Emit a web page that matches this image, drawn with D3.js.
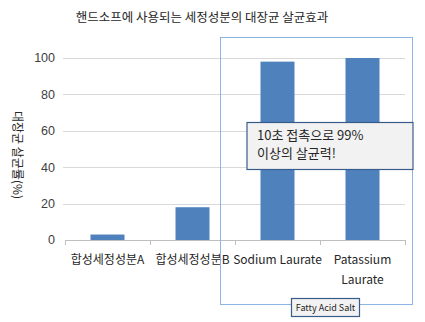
<!DOCTYPE html>
<html>
<head>
<meta charset="utf-8">
<script src="https://cdn.jsdelivr.net/npm/d3@7"></script>
<style>
  body { margin: 0; background: #fff; }
  text { fill: #262626; }
</style>
</head>
<body>
<div id="chart"></div>
<script>
let categories = ["합성세정성분A", "합성세정성분B", "Sodium Laurate", "Patassium Laurate"];
let labelLines = [["합성세정성분A"], ["합성세정성분B"], ["Sodium Laurate"], ["Patassium", "Laurate"]];
let values = [3, 18, 98, 100];
let yTicks = [0, 20, 40, 60, 80, 100];

let chartTitle = "핸드소프에 사용되는 세정성분의 대장균 살균효과";
let yTitle = "대장균 살균률(%)";
let noteLines = ["10초 접촉으로 99%", "이상의 살균력!"];
let groupLabel = "Fatty Acid Salt";

let svgWidth = 425;
let svgHeight = 322;
let margin = { top: 58, right: 20, bottom: 82, left: 65 };
let chartWidth = 340;
let chartHeight = 182;

let korFont = "'Noto Sans CJK KR', 'Noto Sans', sans-serif";
let numFont = "'Liberation Sans', Arial, sans-serif";

let svg = d3.select("#chart")
  .append("svg")
  .attr("width", svgWidth)
  .attr("height", svgHeight);

let chartGroup = svg.append("g")
  .attr("transform", `translate(${margin.left}, ${margin.top})`);

let x = d3.scaleBand()
  .domain(categories)
  .range([0, chartWidth])
  .paddingInner(0.6)
  .paddingOuter(0.3);

let y = d3.scaleLinear()
  .domain([0, 100])
  .range([chartHeight, 0]);

// gridlines
chartGroup.append("g")
  .selectAll("line")
  .data(yTicks.filter(d => d > 0))
  .enter()
  .append("line")
  .attr("x1", -2)
  .attr("x2", chartWidth)
  .attr("y1", d => Math.round(y(d)) + 0.5)
  .attr("y2", d => Math.round(y(d)) + 0.5)
  .attr("stroke", "#d9d9d9");

// y tick labels
chartGroup.append("g")
  .selectAll("text")
  .data(yTicks)
  .enter()
  .append("text")
  .attr("x", -10)
  .attr("y", d => y(d))
  .attr("dy", "0.35em")
  .attr("text-anchor", "end")
  .style("font-family", numFont)
  .style("font-size", "12.5px")
  .style("fill", "#404040")
  .text(d => d);

// bars
chartGroup.selectAll("rect.bar")
  .data(values)
  .enter()
  .append("rect")
  .attr("class", "bar")
  .attr("x", (d, i) => x(categories[i]))
  .attr("y", d => y(d))
  .attr("width", x.bandwidth())
  .attr("height", d => chartHeight - y(d))
  .attr("fill", "#4f81bd");

// x axis line and ticks at band edges
let bandStep = chartWidth / categories.length;
chartGroup.append("line")
  .attr("x1", 0)
  .attr("x2", chartWidth)
  .attr("y1", chartHeight + 0.5)
  .attr("y2", chartHeight + 0.5)
  .attr("stroke", "#bfbfbf");

chartGroup.append("g")
  .selectAll("line")
  .data(d3.range(categories.length + 1))
  .enter()
  .append("line")
  .attr("x1", d => Math.round(d * bandStep) + 0.5)
  .attr("x2", d => Math.round(d * bandStep) + 0.5)
  .attr("y1", chartHeight)
  .attr("y2", chartHeight + 5)
  .attr("stroke", "#bfbfbf");

// category labels
let catLabels = chartGroup.append("g")
  .selectAll("text")
  .data(labelLines)
  .enter()
  .append("text")
  .attr("text-anchor", "middle")
  .attr("x", (d, i) => x(categories[i]) + x.bandwidth() / 2)
  .attr("y", chartHeight + 24)
  .style("font-family", korFont)
  .style("font-size", "12px");

catLabels.selectAll("tspan")
  .data(d => d)
  .enter()
  .append("tspan")
  .attr("x", function() { return d3.select(this.parentNode).attr("x"); })
  .attr("dy", (d, i) => i === 0 ? 0 : 20)
  .text(d => d);

// title
svg.append("text")
  .attr("x", 202)
  .attr("y", 22)
  .attr("text-anchor", "middle")
  .style("font-family", korFont)
  .style("font-size", "12.5px")
  .text(chartTitle);

// y axis title
svg.append("text")
  .attr("transform", "translate(13, 155) rotate(90)")
  .attr("text-anchor", "middle")
  .style("font-family", korFont)
  .style("font-size", "12px")
  .text(yTitle);

// fatty acid salt group box
svg.append("rect")
  .attr("x", 220.5)
  .attr("y", 37.5)
  .attr("width", 192)
  .attr("height", 267)
  .attr("fill", "none")
  .attr("stroke", "#8eb4e3")
  .attr("stroke-width", 1);

svg.append("rect")
  .attr("x", 291.5)
  .attr("y", 298.5)
  .attr("width", 68)
  .attr("height", 18)
  .attr("fill", "#f2f2f2")
  .attr("stroke", "#385d8a")
  .attr("stroke-width", 1.2);

svg.append("text")
  .attr("x", 325.5)
  .attr("y", 311)
  .attr("text-anchor", "middle")
  .style("font-family", korFont)
  .style("font-size", "9px")
  .text(groupLabel);

// note box
svg.append("rect")
  .attr("x", 247)
  .attr("y", 122.5)
  .attr("width", 166)
  .attr("height", 47)
  .attr("fill", "#f2f2f2")
  .attr("stroke", "#385d8a")
  .attr("stroke-width", 1.2);

svg.append("g")
  .selectAll("text")
  .data(noteLines)
  .enter()
  .append("text")
  .attr("x", 257)
  .attr("y", (d, i) => 140 + i * 18)
  .style("font-family", korFont)
  .style("font-size", "13px")
  .text(d => d);
</script>
</body>
</html>
